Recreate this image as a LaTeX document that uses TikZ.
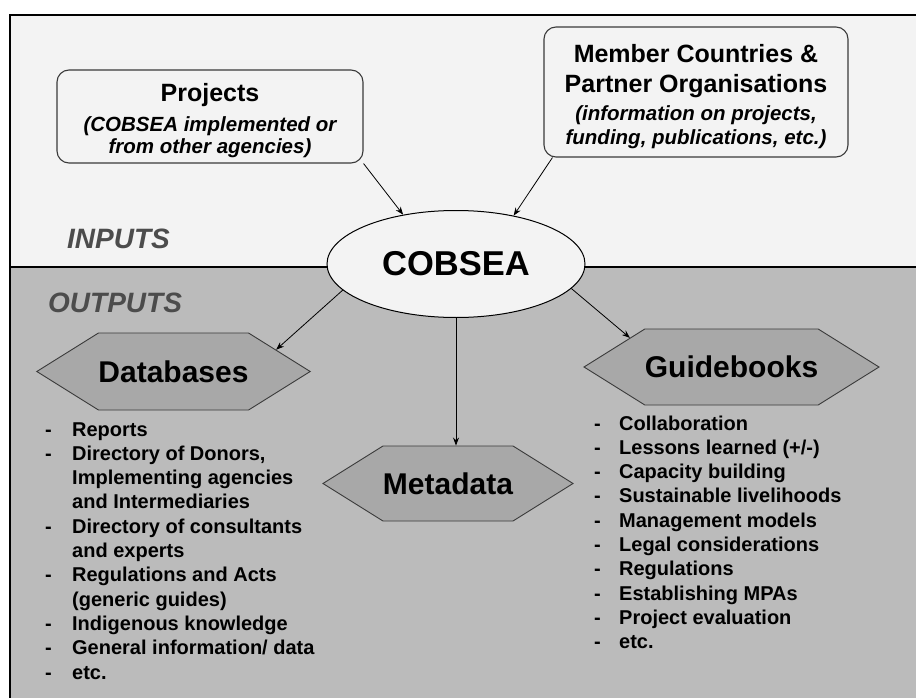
\documentclass[tikz,border=0pt]{standalone}
\usepackage{fontspec}
\setmainfont{Liberation Sans}
\usetikzlibrary{shapes.geometric,shapes.symbols,arrows.meta}

\definecolor{upperbg}{HTML}{F3F3F3}
\definecolor{lowerbg}{HTML}{BBBBBB}
\definecolor{hexfill}{HTML}{A8A8A8}
\definecolor{edge}{HTML}{3A3A3A}
\definecolor{zonelabel}{HTML}{4C4C4C}

% smaller italic line inside the input boxes
\newcommand\boxnote[1]{{\fontsize{20.5}{24}\selectfont\itshape #1}}

\begin{document}
\begin{tikzpicture}[x=1pt,y=-1pt,
  inbox/.style={draw=edge, line width=1.1pt, fill=upperbg, rounded corners=12pt,
    inner sep=0pt, align=center, font=\bfseries\fontsize{25}{30}\selectfont},
  hexbox/.style={signal, signal to=west and east, signal pointer angle=64,
    draw=edge, line width=0.9pt, fill=hexfill, inner sep=0pt,
    font=\bfseries\fontsize{30}{36}\selectfont},
  flow/.style={-{Stealth[length=8pt,width=6pt]}, line width=0.8pt},
  itemlist/.style={anchor=base west, inner sep=0pt,
    font=\bfseries\fontsize{20}{24.3}\selectfont},
  zone/.style={anchor=base west, inner sep=0pt, text=zonelabel,
    font=\bfseries\itshape\fontsize{28}{34}\selectfont}]

% canvas and the two zones
\clip (0,0) rectangle (916,698);
\fill[white] (0,0) rectangle (916,698);
\fill[upperbg] (10,15) rectangle (916,267);
\fill[lowerbg] (10,267) rectangle (916,698);
\draw[line width=2.5pt] (10,702) -- (10,15) -- (920,15);
\draw[line width=2pt] (10,267) -- (920,267);

% zone titles
\node[zone] (inlabel) at (67,248) {INPUTS};
\node[zone] (outlabel) at (48,312) {OUTPUTS};

% input sources (the leading rule lowers the text block a little)
\node[inbox, minimum width=306pt, minimum height=93pt] (proj) at (210,116.5)
  {\rule{0pt}{27pt}Projects\\\boxnote{(COBSEA implemented or}\\[-8pt]\boxnote{from other agencies)}};
\node[inbox, minimum width=304pt, minimum height=130pt] (member) at (696,92)
  {\rule{0pt}{28pt}Member Countries \&\\Partner Organisations\\[-2pt]\boxnote{(information on projects,}\\[-6pt]\boxnote{funding, publications, etc.)}};

% central body
\node[ellipse, draw=black, line width=1pt, fill=upperbg, minimum width=258pt,
  minimum height=107pt, inner sep=0pt,
  font=\bfseries\fontsize{34.5}{40}\selectfont] (cob) at (456,264) {COBSEA};

% outputs
\node[hexbox, minimum width=213pt, minimum height=77pt] (db) at (173.5,371.5) {Databases};
\node[hexbox, minimum width=265pt, minimum height=76pt] (gb) at (731.5,367) {Guidebooks};
\node[hexbox, minimum width=210pt, minimum height=75pt] (meta) at (448,483.5) {Metadata};

% connectors
\draw[flow] (proj.south east) -- (cob.137);
\draw[flow] ([xshift=9pt]member.south west) -- (cob.40);
\draw[flow] (cob.193) -- (db.12);
\draw[flow] (cob.-12) -- (gb.164);
\draw[flow] (cob.south) -- (cob.south |- meta.north);

% output contents
\node[itemlist] (dblist) at (45,436) {\begin{tabular}[t]{@{}p{27pt}@{}l@{}}
-&Reports\\
-&Directory of Donors,\\
&Implementing agencies\\
&and Intermediaries\\
-&Directory of consultants\\
&and experts\\
-&Regulations and Acts\\
&(generic guides)\\
-&Indigenous knowledge\\
-&General information/ data\\
-&etc.
\end{tabular}};

\node[itemlist] (gblist) at (594,430) {\begin{tabular}[t]{@{}p{25pt}@{}l@{}}
-&Collaboration\\
-&Lessons learned (+/-)\\
-&Capacity building\\
-&Sustainable livelihoods\\
-&Management models\\
-&Legal considerations\\
-&Regulations\\
-&Establishing MPAs\\
-&Project evaluation\\
-&etc.
\end{tabular}};

\end{tikzpicture}
\end{document}
